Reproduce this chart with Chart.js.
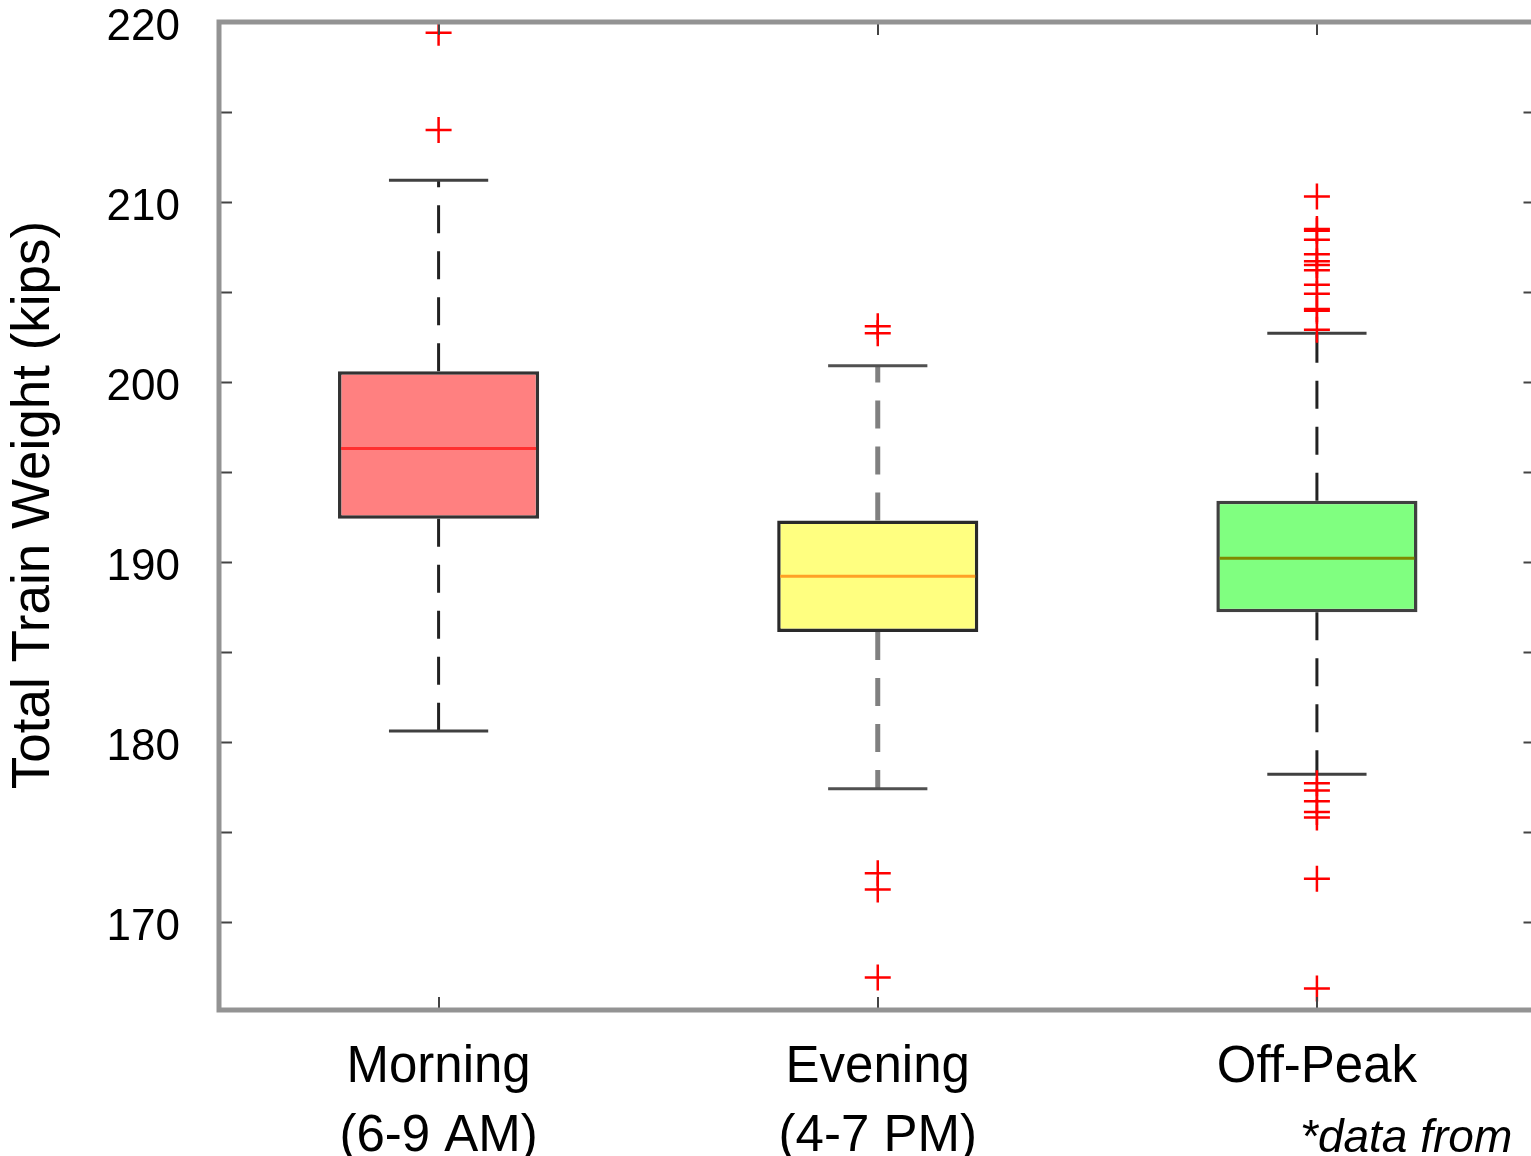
<!DOCTYPE html>
<html>
<head>
<meta charset="utf-8">
<title>Total Train Weight</title>
<script src="https://cdn.jsdelivr.net/npm/chart.js@4.4.1/dist/chart.umd.min.js"></script>
<style>
  html, body { margin: 0; padding: 0; background: #fff; overflow: hidden; }
  #wrap { position: relative; width: 1531px; height: 1156px; overflow: hidden; }
  #boxChart { display: block; }
  #note {
    position: absolute; left: 1300px; top: 1113px;
    font: italic 46px/46px "Liberation Sans", Arial, sans-serif;
    white-space: nowrap; color: #000;
  }
</style>
</head>
<body>
<div id="wrap">
  <canvas id="boxChart" width="1552" height="1156"></canvas>
  <div id="note">*data from</div>
</div>
<script>
// values (kips)
var categories = [["Morning", "(6-9 AM)"], ["Evening", "(4-7 PM)"], "Off-Peak"];
var q1 = [192.4, 186.1, 187.2];
var q3 = [200.6, 192.3, 193.4];
var medians = [196.3, 189.2, 190.2];
var whiskerLow = [180.6, 177.4, 178.2];
var whiskerHigh = [211.2, 200.9, 202.7];
var outliersMorning = [219.4, 214.0];
var outliersEvening = [203.1, 202.7, 172.7, 171.8, 166.9];
var outliersOffPeak = [210.3, 208.5, 208.4, 207.9, 207.1, 206.7, 206.5, 206.2, 205.4, 204.9,
                       204.05, 203.95, 202.9, 177.7, 177.3, 176.7, 176.1, 175.8, 172.4, 166.3];
var yMin = 165.1, yMax = 220, yStep = 5;
var yTitle = "Total Train Weight (kips)";

// styles
var boxFill = ["#ff8080", "#ffff80", "#80ff80"];
var boxEdge = ["#333333", "#2a2a2a", "#404040"];
var medianColor = ["#ff3030", "#ffa126", "#7f8a00"];
var whiskerColor = ["#222222", "#808080", "#222222"];
var whiskerWidth = [3, 5, 3];
var capColor = ["#404040", "#505050", "#404040"];
var boxHalf = 0.222, capHalf = 0.113;
var fontFamily = '"Liberation Sans", Arial, sans-serif';

Chart.defaults.font.family = fontFamily;
Chart.defaults.color = "#000";

var allOutliers = [outliersMorning, outliersEvening, outliersOffPeak];
var datasets = [];

// red + markers
datasets.push({
  type: "scatter",
  xAxisID: "xl",
  order: 1,
  data: allOutliers.flatMap(function (list, i) {
    return list.map(function (v) { return { x: i, y: v }; });
  }),
  pointStyle: "cross",
  pointRadius: 13,
  pointHoverRadius: 13,
  borderColor: "#ff0000",
  borderWidth: 2.5,
});

categories.forEach(function (c, i) {
  // median
  datasets.push({
    type: "line", xAxisID: "xl", order: 2,
    data: [{ x: i - boxHalf, y: medians[i] }, { x: i + boxHalf, y: medians[i] }],
    borderColor: medianColor[i], borderWidth: 3, pointRadius: 0, fill: false,
  });
  // caps
  [whiskerLow[i], whiskerHigh[i]].forEach(function (w) {
    datasets.push({
      type: "line", xAxisID: "xl", order: 3,
      data: [{ x: i - capHalf, y: w }, { x: i + capHalf, y: w }],
      borderColor: capColor[i], borderWidth: 3, pointRadius: 0, fill: false,
    });
  });
  // dashed whiskers, drawn outward from the box
  [[q3[i], whiskerHigh[i]], [q1[i], whiskerLow[i]]].forEach(function (seg) {
    datasets.push({
      type: "line", xAxisID: "xl", order: 4,
      data: [{ x: i, y: seg[0] }, { x: i, y: seg[1] }],
      borderColor: whiskerColor[i], borderWidth: whiskerWidth[i],
      borderDash: [28, 18], pointRadius: 0, fill: false,
    });
  });
});

// boxes (q1..q3)
datasets.push({
  type: "bar",
  xAxisID: "x",
  order: 5,
  grouped: false,
  data: q1.map(function (lo, i) { return [lo, q3[i]]; }),
  backgroundColor: boxFill,
  borderColor: boxEdge,
  borderWidth: 3.5,
  borderSkipped: false,
  barPercentage: 0.458,
  categoryPercentage: 1,
});

// matlab-like frame with inward ticks, plus the rotated y title
var framePlugin = {
  id: "frame",
  afterDatasetsDraw: function (chart) {
    var ctx = chart.ctx, a = chart.chartArea, sy = chart.scales.y, sx = chart.scales.x;
    ctx.save();
    ctx.strokeStyle = "#444";
    ctx.lineWidth = 2;
    ctx.beginPath();
    sy.ticks.forEach(function (t) {
      if (t.value <= yMin || t.value >= yMax) return;
      var py = Math.round(sy.getPixelForValue(t.value)) + 0.5;
      ctx.moveTo(a.left, py); ctx.lineTo(a.left + 13, py);
      ctx.moveTo(a.right - 13, py); ctx.lineTo(a.right, py);
    });
    categories.forEach(function (c, i) {
      var px = Math.round(sx.getPixelForValue(i));
      ctx.moveTo(px, a.bottom); ctx.lineTo(px, a.bottom - 13);
      ctx.moveTo(px, a.top); ctx.lineTo(px, a.top + 13);
    });
    ctx.stroke();
    ctx.strokeStyle = "#939393";
    ctx.lineWidth = 5;
    ctx.strokeRect(a.left, a.top, a.right - a.left, a.bottom - a.top);

    // y title, slightly above the axis middle like the original
    ctx.translate(34, (a.top + a.bottom) / 2 - 11);
    ctx.rotate(-Math.PI / 2);
    ctx.fillStyle = "#000";
    ctx.font = "53px " + fontFamily;
    ctx.textAlign = "center";
    ctx.textBaseline = "middle";
    ctx.fillText(yTitle, 0, 0);
    ctx.restore();
  },
};

var chart = new Chart(document.getElementById("boxChart").getContext("2d"), {
  type: "bar",
  data: { labels: categories, datasets: datasets },
  options: {
    responsive: false,
    animation: false,
    layout: { padding: { top: 22, right: 7.5, bottom: 0, left: 0 } },
    plugins: { legend: { display: false }, tooltip: { enabled: false } },
    scales: {
      x: {
        type: "category",
        position: "bottom",
        offset: true,
        grid: { display: false, drawTicks: false },
        border: { display: false },
        ticks: {
          padding: 24, maxRotation: 0, autoSkip: false, color: "#000",
          font: { size: 51, lineHeight: 1.35 },
        },
        afterFit: function (s) { s.height = 146; s.paddingLeft = 0; s.paddingRight = 0; },
      },
      xl: { type: "linear", display: false, offset: false, min: -0.5, max: 2.5 },
      y: {
        position: "left",
        min: yMin,
        max: yMax,
        grid: { display: false, drawTicks: true, tickLength: 36 },
        border: { display: false },
        ticks: {
          stepSize: yStep, padding: 3, labelOffset: 6, color: "#000",
          font: { size: 44, lineHeight: 1.2 },
          callback: function (v) { return Math.abs(v % 10) < 1e-6 ? v : ""; },
        },
        afterFit: function (s) { s.width = 219; s.paddingTop = 0; s.paddingBottom = 0; },
      },
    },
  },
  plugins: [framePlugin],
});
</script>
</body>
</html>
